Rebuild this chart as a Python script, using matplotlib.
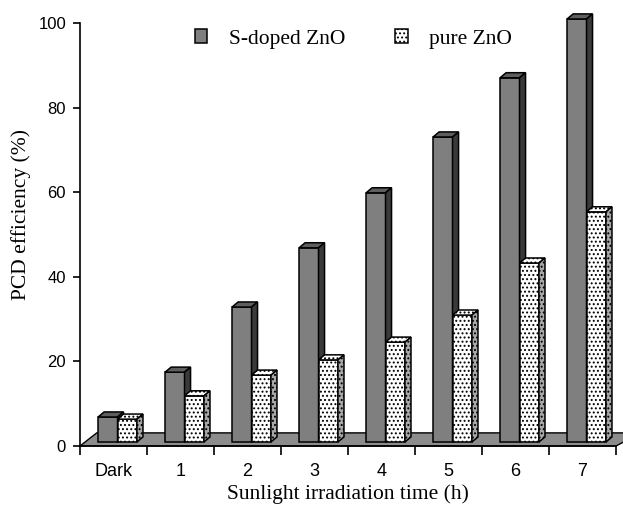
import numpy as np
import matplotlib.pyplot as plt
from matplotlib.patches import Polygon

# 数据
categories = ["Dark", "1", "2", "3", "4", "5", "6", "7"]
s_doped = [5.9, 16.5, 31.9, 45.9, 58.9, 72.1, 86.1, 100.0]
pure = [5.4, 10.9, 15.8, 19.4, 23.6, 30.0, 42.3, 54.4]

# 三维效果参数
base = 0.95          # 柱子底面高度
width = 0.29         # 柱宽
x_off = 0.27         # 柱子在类别内的起点
dx, dy = 0.09, 1.2   # 柱子纵深偏移
fdx, fdy = 0.25, 3.1 # 底板纵深偏移
dots = '....'


def draw_bar3d(ax, x, h, front, top, side, hatch=None, z=3):
    """画一个带顶面和侧面的柱子"""
    ax.bar(x, h, width=width, bottom=base, align='edge', color=front,
           edgecolor='black', linewidth=1.1, hatch=hatch, zorder=z)
    y1 = base + h
    top_pts = [(x, y1), (x + dx, y1 + dy), (x + width + dx, y1 + dy), (x + width, y1)]
    side_pts = [(x + width, base), (x + width + dx, base + dy),
                (x + width + dx, y1 + dy), (x + width, y1)]
    ax.add_patch(Polygon(top_pts, closed=True, facecolor=top, edgecolor='black',
                         linewidth=1.1, hatch=hatch, zorder=z))
    ax.add_patch(Polygon(side_pts, closed=True, facecolor=side, edgecolor='black',
                         linewidth=1.1, hatch=hatch, zorder=z))


plt.rcParams['hatch.linewidth'] = 0.9
fig = plt.figure(figsize=(6.23, 5.08), dpi=100)
ax = fig.add_axes([80 / 623, 62 / 508, 536 / 623, 423 / 508])
ax.set_xlim(0, 8)
ax.set_ylim(0, 100)

# 底板
n = len(categories)
floor = [(0, 0), (fdx, fdy), (n + fdx + 0.12, fdy), (n, 0)]
ax.add_patch(Polygon(floor, closed=True, facecolor='#8c8c8c', edgecolor='black',
                     linewidth=1.0, zorder=1, clip_on=False))

for i in range(n):
    z = 3 + i * 2
    draw_bar3d(ax, i + x_off, s_doped[i], '#7f7f7f', '#5e5e5e', '#3a3a3a', z=z)
    draw_bar3d(ax, i + x_off + width, pure[i], 'white', 'white', '#a8a8a8',
               hatch=dots, z=z + 1)

for p in ax.patches:
    p.set_clip_on(False)

# 坐标轴
ax.spines['top'].set_visible(False)
ax.spines['right'].set_visible(False)
ax.spines['left'].set_linewidth(1.2)
ax.spines['bottom'].set_linewidth(1.2)
ax.spines['bottom'].set_zorder(50)

ax.set_yticks(np.arange(0, 101, 20))
ax.tick_params(axis='y', direction='out', length=5, width=1.2, labelsize=12, pad=5)
ax.set_xticks(np.arange(0, n + 1))
ax.set_xticklabels([])
ax.set_xticks(np.arange(n) + 0.5, minor=True)
ax.set_xticklabels(categories, minor=True)
ax.tick_params(axis='x', which='major', direction='out', length=6.5, width=1.2)
ax.tick_params(axis='x', which='minor', length=0, labelsize=13, pad=12)
for t in ax.get_yticklabels() + ax.get_xticklabels(minor=True):
    t.set_fontfamily('Liberation Sans')

ax.set_xlabel("Sunlight irradiation time (h)", fontfamily='Liberation Serif',
              fontsize=15.5, labelpad=3)
ax.set_ylabel("PCD efficiency (%)", fontfamily='Liberation Serif',
              fontsize=15.5)
ax.yaxis.set_label_coords(-0.092, 0.548)

# 图例
h1 = plt.Rectangle((0, 0), 1, 1, facecolor='#7f7f7f', edgecolor='black', linewidth=1.1)
h2 = plt.Rectangle((0, 0), 1, 1, facecolor='white', edgecolor='black', linewidth=1.1,
                   hatch=dots)
ax.legend([h1, h2], ["S-doped ZnO", "pure ZnO"], ncol=2, frameon=False,
          loc='center', bbox_to_anchor=(0.51, 0.962), handlelength=0.6,
          handleheight=0.6, columnspacing=2.3, handletextpad=1.0,
          prop={'family': 'Liberation Serif', 'size': 15.5})

fig.savefig("out.png", dpi=100)
